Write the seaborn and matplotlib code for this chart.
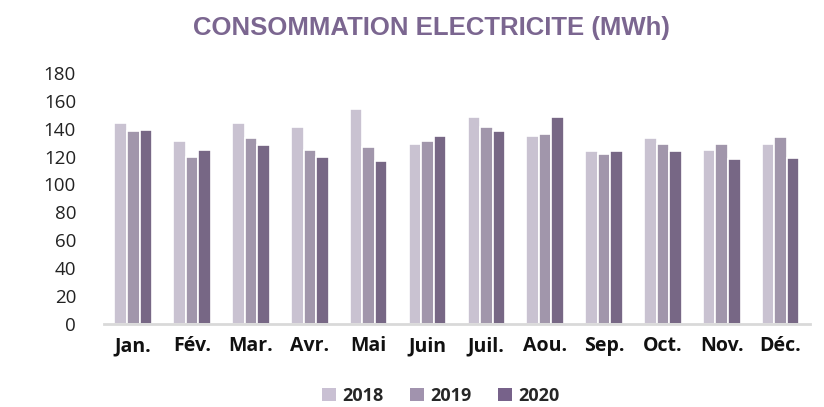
import matplotlib
matplotlib.use("Agg")
import matplotlib.pyplot as plt
import seaborn as sns
import pandas as pd
from matplotlib.patches import Patch

months = ["Jan.", "Fév.", "Mar.", "Avr.", "Mai", "Juin", "Juil.", "Aou.", "Sep.", "Oct.", "Nov.", "Déc."]
years = ["2018", "2019", "2020"]
v2018 = [144, 131, 144, 141, 154, 129, 148, 135, 124, 133, 125, 129]
v2019 = [138, 120, 133, 125, 127, 131, 141, 136, 122, 129, 129, 134]
v2020 = [139, 125, 128, 120, 117, 135, 138, 148, 124, 124, 118, 119]
colors = ["#C9C0D3", "#A193AE", "#77628A"]
yticks = [0, 20, 40, 60, 80, 100, 120, 140, 160, 180]

rows = []
for y, vals in zip(years, [v2018, v2019, v2020]):
    for m, v in zip(months, vals):
        rows.append({"Mois": m, "Année": y, "Valeur": v})
df = pd.DataFrame(rows)

sns.set_theme(style="white")
plt.rcParams["font.family"] = ["Open Sans", "DejaVu Sans"]

fig = plt.figure(figsize=(8.24, 4.07), dpi=100)
ax = fig.add_axes([0.126, 0.204, 0.857, 0.617])
sns.barplot(data=df, x="Mois", y="Valeur", hue="Année", order=months, hue_order=years,
            palette=colors, width=0.64, edgecolor="white", linewidth=1.2,
            legend=False, ax=ax, errorbar=None)
ax.set_ylim(0, 180)
ax.set_xlim(-0.5, len(months) - 0.5)
ax.set_yticks(yticks)
ax.set_yticklabels([str(t) for t in yticks], fontsize=13.5, color="#222222")
ax.set_xticklabels(months, fontsize=14, fontweight="bold", color="#111111")
ax.tick_params(axis="x", length=0, pad=9)
ax.tick_params(axis="y", length=0, pad=20)
ax.set_xlabel("")
ax.set_ylabel("")
for s in ["top", "right", "left"]:
    ax.spines[s].set_visible(False)
ax.spines["bottom"].set_color("#D9D9D9")
ax.spines["bottom"].set_linewidth(2)

fig.text(0.524, 0.932, "CONSOMMATION ELECTRICITE (MWh)", ha="center", va="center",
         fontsize=18.5, fontweight="bold", color="#7B6690",
         family=["Liberation Sans Narrow", "Liberation Sans", "DejaVu Sans"])

handles = [Patch(facecolor=c, edgecolor="none") for c in colors]
leg = fig.legend(handles, years, loc="center", bbox_to_anchor=(0.535, 0.027), ncol=3,
                 frameon=False, prop={"weight": "bold", "size": 13},
                 handlelength=0.75, handleheight=0.75, handletextpad=0.35, columnspacing=1.5)

fig.savefig("out.png", dpi=100)
